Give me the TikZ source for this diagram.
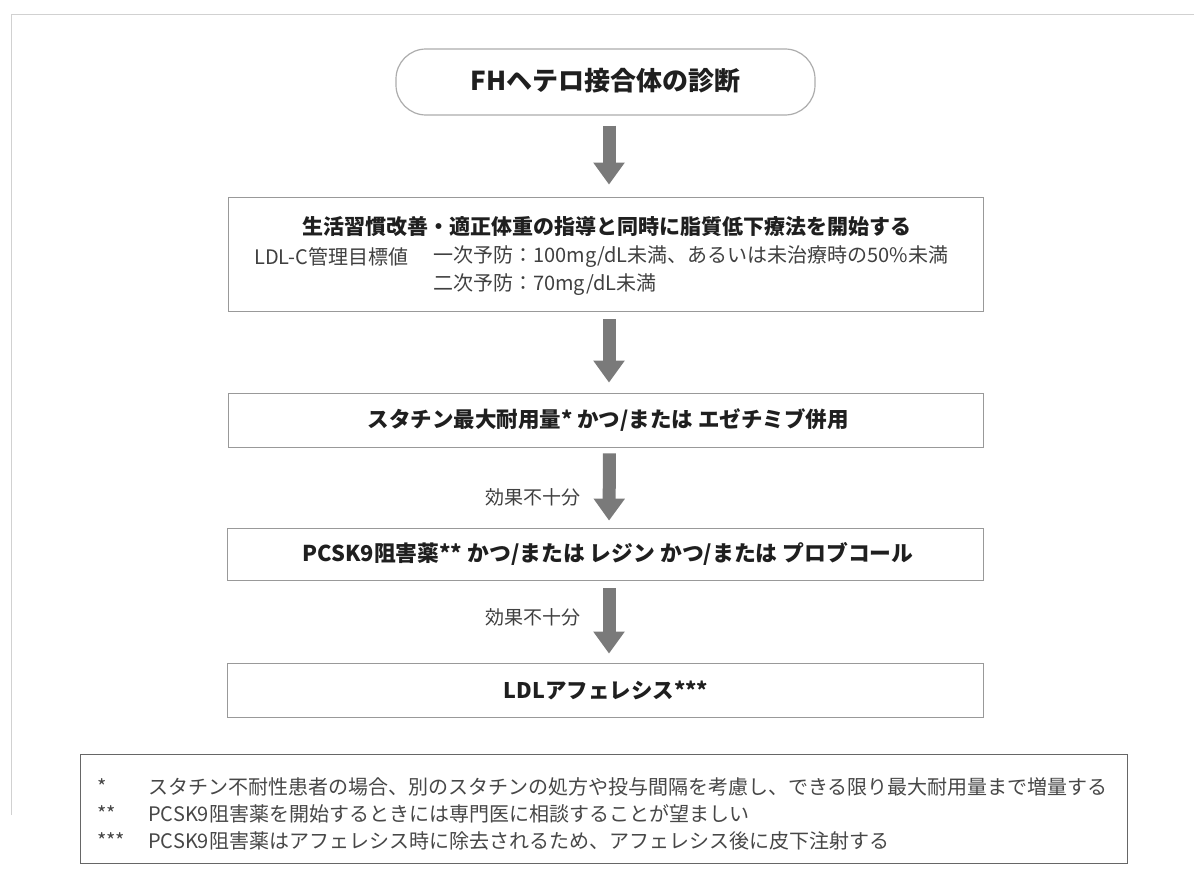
\documentclass[tikz,border=0pt]{standalone}
\usepackage{fontspec}
\setmainfont{Noto Sans CJK JP}
\usetikzlibrary{arrows.meta}
\begin{document}
\begin{tikzpicture}[x=1pt,y=-1pt,
  flowbox/.style={draw=black!40, line width=0.8pt, inner sep=0pt},
  headtxt/.style={text=black!88, font=\bfseries\fontsize{21.5}{26}\selectfont, inner sep=0pt},
  bodytxt/.style={text=black!75, font=\fontsize{20}{24}\selectfont, inner sep=0pt},
  notetxt/.style={text=black!72, font=\fontsize{20}{24}\selectfont, inner sep=0pt, anchor=west},
  bigarrow/.style={draw=black!52, line width=13pt, -{Triangle[width=30pt,length=22pt]}}
]
\useasboundingbox (0,0) rectangle (1194,891);
\fill[white] (0,0) rectangle (1194,891);
% faint outer frame (scan)
\draw[black!18, line width=0.8pt] (11,815) -- (11,14) -- (1194,14);

% boxes
\node[flowbox, draw=black!32, line width=1.2pt, rounded corners=30pt, minimum width=419pt, minimum height=66pt] (b1) at (605.5,82) {};
\node[headtxt, font=\bfseries\fontsize{26}{30}\selectfont] (t1) at (605.5,81) {FHヘテロ接合体の診断};

\node[flowbox, minimum width=755pt, minimum height=114pt] (b2) at (605.5,254) {};
\node[headtxt, font=\bfseries\fontsize{21}{25}\selectfont] (t2a) at (607,227) {生活習慣改善・適正体重の指導と同時に脂質低下療法を開始する};
\node[bodytxt, anchor=west] (t2b) at (254,257) {LDL-C管理目標値};
\node[bodytxt, anchor=west] (t2c) at (433,257) {一次予防：100mg/dL未満、あるいは未治療時の50\%未満};
\node[bodytxt, anchor=west] (t2d) at (433,285) {二次予防：70mg/dL未満};

\node[flowbox, minimum width=755pt, minimum height=54pt] (b3) at (605.5,420) {};
\node[headtxt] (t3) at (608,420) {スタチン最大耐用量* かつ/または エゼチミブ併用};

\node[flowbox, minimum width=756pt, minimum height=52pt] (b4) at (605,554) {};
\node[headtxt, font=\bfseries\fontsize{21.8}{26}\selectfont] (t4) at (608,554) {PCSK9阻害薬** かつ/または レジン かつ/または プロブコール};

\node[flowbox, minimum width=756pt, minimum height=54pt] (b5) at (605,690) {};
\node[headtxt] (t5) at (606,690) {LDLアフェレシス***};

% arrows
\draw[bigarrow, shorten <=10pt, shorten >=12pt] ([xshift=3.5pt]b1.south) -- ([xshift=3.5pt]b2.north);
\draw[bigarrow, shorten <=8pt, shorten >=10pt] ([xshift=3.5pt]b2.south) -- ([xshift=3.5pt]b3.north);
\draw[bigarrow, shorten <=6pt, shorten >=7pt] ([xshift=4pt]b3.south) -- ([xshift=4pt]b4.north);
\draw[bigarrow, shorten <=8pt, shorten >=9pt] ([xshift=4pt]b4.south) -- ([xshift=4pt]b5.north);

\node[bodytxt, font=\fontsize{19}{23}\selectfont, anchor=east] (k1) at (581,497) {効果不十分};
\node[bodytxt, font=\fontsize{19}{23}\selectfont, anchor=east] (k2) at (581,617) {効果不十分};

% footnotes
\node[draw=black!60, line width=1pt, inner sep=0pt, minimum width=1047pt, minimum height=109pt] (fn) at (603.5,808.5) {};
\node[notetxt] (m1) at (97,787) {*};
\node[notetxt] (m2) at (97,814) {**};
\node[notetxt] (m3) at (97,841) {***};
\node[notetxt] (n1) at (148,787) {スタチン不耐性患者の場合、別のスタチンの処方や投与間隔を考慮し、できる限り最大耐用量まで増量する};
\node[notetxt] (n2) at (148,814) {PCSK9阻害薬を開始するときには専門医に相談することが望ましい};
\node[notetxt] (n3) at (148,841) {PCSK9阻害薬はアフェレシス時に除去されるため、アフェレシス後に皮下注射する};
\end{tikzpicture}
\end{document}
